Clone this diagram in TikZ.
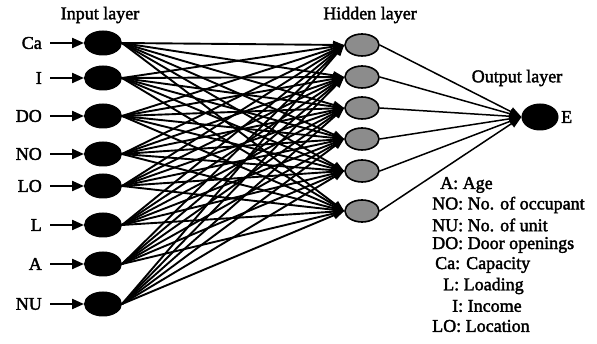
\documentclass[tikz,border=0pt]{standalone}
\usepackage{fontspec}
\setmainfont{Liberation Serif}[FakeBold=2]
\usetikzlibrary{shapes.geometric,arrows.meta}
\tikzset{
  neuronin/.style={ellipse,fill=black,draw=black,line width=1pt,minimum width=37pt,minimum height=24pt,inner sep=0pt},
  neuronhid/.style={ellipse,fill=gray!90,draw=black,line width=1.6pt,minimum width=34pt,minimum height=22pt,inner sep=0pt},
  neuronout/.style={ellipse,fill=black,draw=black,line width=1pt,minimum width=36pt,minimum height=26pt,inner sep=0pt},
  txt/.style={inner sep=0pt,font=\fontsize{18}{20}\selectfont},
  feed/.style={line width=2.2pt,-{Triangle[length=12pt,width=10pt]},shorten <=8pt},
  wih/.style={line width=1.9pt,-{Triangle[length=11pt,width=8pt]}},
  who/.style={line width=1.5pt,-{Triangle[length=12pt,width=9pt]}}
}
\begin{document}
\begin{tikzpicture}[x=1pt,y=-1pt]
\useasboundingbox (0,0) rectangle (597,344);
\fill[white] (0,0) rectangle (597,344);

% layer titles
\node[txt] (tin) at (100,15) {Input layer};
\node[txt] (thid) at (370,15) {Hidden layer};
\node[txt] (tout) at (517,78) {Output layer};

% input neurons with their labels
\foreach \n/\lab/\y in {1/Ca/43,2/I/78,3/DO/116,4/NO/154,5/LO/186,6/L/225,7/A/264,8/NU/304}{
  \node[neuronin] (in\n) at (103,\y) {};
  \node[txt,anchor=east] (lab\n) at (42,\y) {\lab};
  \draw[feed] (lab\n.east) -- (in\n.west);
}

% hidden neurons
\foreach \m/\y in {1/45,2/77,3/108,4/139,5/171,6/211}{
  \node[neuronhid] (hid\m) at (362,\y) {};
}

% output neuron
\node[neuronout] (out) at (540,117) {};
\node[txt,anchor=west] (elab) at (561,117) {E};

% weights input -> hidden
\foreach \n in {1,...,8}{
  \foreach \m in {1,...,6}{
    \draw[wih] (in\n.east) -- (hid\m.west);
  }
}

% weights hidden -> output
\foreach \m in {1,...,6}{
  \draw[who] (hid\m.east) -- (out.west);
}

% abbreviations
\node[txt,anchor=west] (k1) at (440,185) {A: Age};
\node[txt,anchor=west] (k2) at (432,205) {NO: No. of occupant};
\node[txt,anchor=west] (k3) at (432,225) {NU: No. of unit};
\node[txt,anchor=west] (k4) at (432,245) {DO: Door openings};
\node[txt,anchor=west] (k5) at (435,265) {Ca: Capacity};
\node[txt,anchor=west] (k6) at (443,286) {L: Loading};
\node[txt,anchor=west] (k7) at (452,306) {I: Income};
\node[txt,anchor=west] (k8) at (432,326) {LO: Location};
\end{tikzpicture}
\end{document}
